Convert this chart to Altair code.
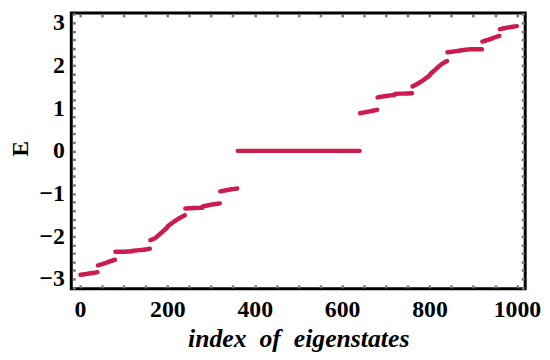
import altair as alt
import pandas as pd
import numpy as np

# Eigen-energy bands: each segment spans a block of eigenstate indices
seg_start = [1, 41, 81, 121, 161, 201, 241, 281, 321, 361, 641, 681, 721, 761, 801, 841, 881, 921, 961]
seg_end = [40, 80, 120, 160, 200, 240, 280, 320, 360, 640, 680, 720, 760, 800, 840, 880, 920, 960, 1000]
# energies read at 5 evenly spaced positions within each block
seg_E = [
    [-2.90, -2.89, -2.87, -2.86, -2.84],
    [-2.68, -2.65, -2.62, -2.58, -2.55],
    [-2.36, -2.36, -2.36, -2.355, -2.35],
    [-2.34, -2.33, -2.32, -2.31, -2.29],
    [-2.09, -2.05, -1.97, -1.88, -1.79],
    [-1.76, -1.69, -1.62, -1.56, -1.51],
    [-1.35, -1.345, -1.34, -1.335, -1.33],
    [-1.30, -1.28, -1.26, -1.245, -1.23],
    [-0.95, -0.93, -0.91, -0.895, -0.88],
    [0.0, 0.0, 0.0, 0.0, 0.0],
    [0.88, 0.90, 0.92, 0.94, 0.96],
    [1.25, 1.27, 1.285, 1.30, 1.31],
    [1.335, 1.34, 1.34, 1.345, 1.35],
    [1.51, 1.56, 1.62, 1.69, 1.76],
    [1.79, 1.88, 1.97, 2.05, 2.10],
    [2.31, 2.32, 2.335, 2.35, 2.36],
    [2.37, 2.375, 2.38, 2.38, 2.38],
    [2.56, 2.59, 2.62, 2.66, 2.69],
    [2.85, 2.87, 2.89, 2.905, 2.92],
]

x_ticks = list(range(0, 1001, 50))
y_ticks = [round(-3.2 + 0.2 * i, 1) for i in range(33)]

rows = []
for k, (s, e, vals) in enumerate(zip(seg_start, seg_end, seg_E)):
    for xi, v in zip(np.linspace(s, e, len(vals)), vals):
        rows.append({"index": float(xi), "E": v, "seg": k})
df = pd.DataFrame(rows)

x_scale = alt.Scale(domain=[-20, 1019], nice=False, zero=False)
y_scale = alt.Scale(domain=[-3.23, 3.23], nice=False, zero=False)

FONT = "Liberation Serif"
NB = "\u00a0"
tick_common = dict(
    domain=False, grid=False, tickColor="#777777", tickWidth=2.5, tickSize=3,
    offset=-4, labelFont=FONT, labelFontWeight="bold", labelFontSize=24,
    labelColor="black",
)

main = alt.Chart(df).mark_line(
    color="#CB1B4F", strokeWidth=4.5, strokeCap="round", interpolate="monotone"
).encode(
    x=alt.X("index:Q", scale=x_scale, axis=alt.Axis(
        orient="bottom", values=x_ticks, format="d",
        labelExpr="datum.value % 200 == 0 ? datum.label : ''",
        labelPadding=10, title=f"index{NB}{NB}of{NB}{NB}eigenstates",
        titleFont=FONT, titleFontStyle="italic", titleFontWeight="bold",
        titleFontSize=26, titleColor="black", titleBaseline="alphabetic",
        titleY=62, titleX=229.5, titleAlign="center", **tick_common)),
    y=alt.Y("E:Q", scale=y_scale, axis=alt.Axis(
        orient="left", values=y_ticks,
        labelExpr="abs(datum.value - round(datum.value)) < 0.001 ? format(datum.value, 'd') : ''",
        labelPadding=8, title="E", titleFont=FONT, titleFontWeight="bold",
        titleFontSize=24, titleColor="black", titleAngle=-90,
        titleX=-48, titleY=137, titleAlign="center", titleBaseline="alphabetic",
        **tick_common)),
    detail="seg:N",
)

ghost = alt.Chart(df).mark_point(opacity=0).encode(
    x=alt.X("index:Q", scale=x_scale, axis=alt.Axis(
        orient="top", values=x_ticks, labels=False, title=None, **tick_common)),
    y=alt.Y("E:Q", scale=y_scale, axis=alt.Axis(
        orient="right", values=y_ticks, labels=False, title=None, **tick_common)),
)

chart = alt.layer(main, ghost).resolve_axis(
    x="independent", y="independent"
).properties(
    width=459, height=279,
    autosize=alt.AutoSizeParams(type="none"),
    padding={"left": 64, "top": 3, "right": 17, "bottom": 68},
).configure_view(stroke="black", strokeWidth=3)

chart.save("out.html", embed_options={"renderer": "svg", "actions": False})
